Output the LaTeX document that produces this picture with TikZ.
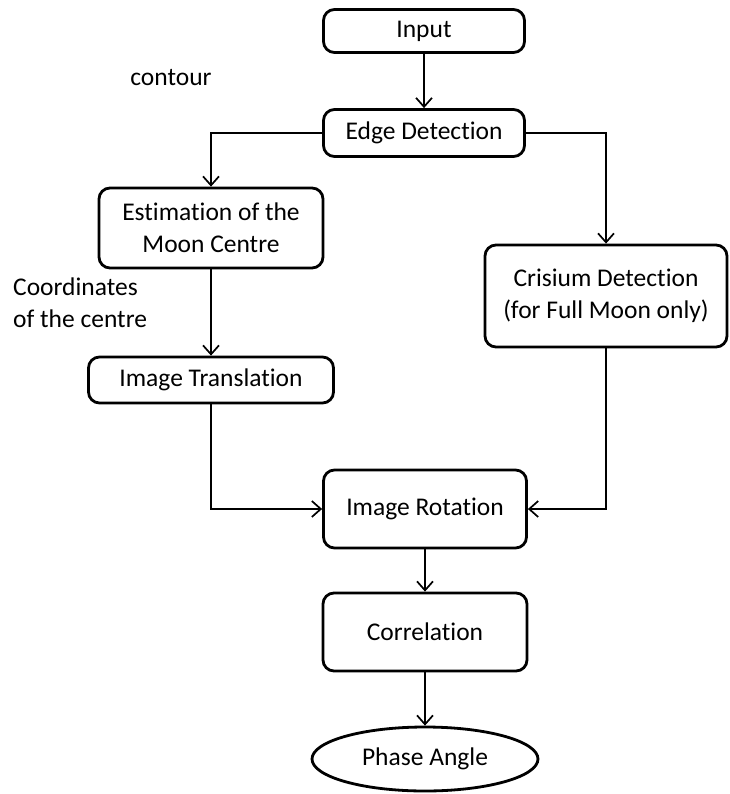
\documentclass[tikz,border=0pt]{standalone}
\usepackage{fontspec}
\setmainfont{Carlito}[Ligatures=NoCommon]
\usetikzlibrary{shapes.geometric,arrows.meta}
\tikzset{
    box/.style={draw=black, line width=2.8pt, rounded corners=11pt,
        align=center, inner sep=2pt},
    oval/.style={draw=black, line width=2.8pt, ellipse, inner sep=0pt},
    flow/.style={line width=1.7pt, -{Straight Barb[length=9pt,width=16pt,line width=1.7pt]}},
    lbl/.style={inner sep=0pt, align=left}
}

\begin{document}
\begin{tikzpicture}[x=1pt, y=-1pt, font=\fontsize{25.5}{32}\selectfont]
\useasboundingbox (0,0) rectangle (729,794);

% processing steps
\node[box, minimum width=201pt, minimum height=43pt](input) at (424,31){Input};
\node[box, minimum width=201pt, minimum height=47pt](edge) at (424,133){Edge Detection};
\node[box, minimum width=224pt, minimum height=80pt](estim) at (211,228)
    {Estimation of the\\Moon Centre};
\node[box, minimum width=242pt, minimum height=102pt](crisium) at (606,296)
    {Crisium Detection\\(for Full Moon only)};
\node[box, minimum width=245pt, minimum height=46pt](transl) at (211,380){Image Translation};
\node[box, minimum width=203pt, minimum height=78pt](rotation) at (425,509){Image Rotation};
\node[box, minimum width=204pt, minimum height=78pt](corr) at (425,632){Correlation};
\node[oval, minimum width=226pt, minimum height=64pt](phase) at (425,759){Phase Angle};

% side labels
\node[lbl](contour) at (171,78){contour};
\node[lbl, anchor=west](coords) at (13,303){Coordinates\\of the centre};

% connectors
\draw[flow](input) -- (edge);
\draw[flow](edge.west) -| (estim.north);
\draw[flow](edge.east) -| (crisium.north);
\draw[flow](estim) -- (transl);
\draw[flow](transl.south) |- (rotation.west);
\draw[flow](crisium.south) |- (rotation.east);
\draw[flow](rotation) -- (corr);
\draw[flow](corr) -- (phase);

\end{tikzpicture}
\end{document}
